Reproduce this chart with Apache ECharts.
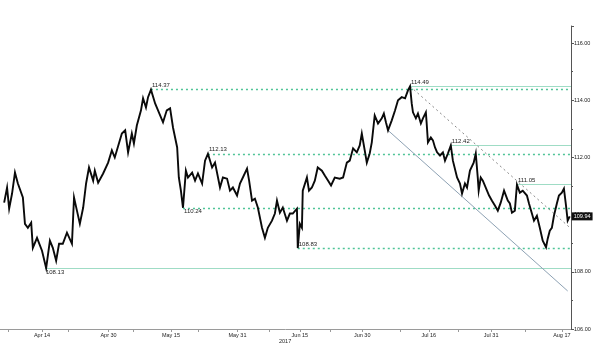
<!DOCTYPE html>
<html>
<head>
<meta charset="utf-8">
<script src="https://cdn.jsdelivr.net/npm/echarts@6/dist/echarts.min.js"></script>
<style>
html, body { margin: 0; padding: 0; background: #fff; }
#chart { width: 600px; height: 353px; }
</style>
</head>
<body>
<div id="chart"></div>
<script>
// x = days since 2017-04-01 (fractional, intraday), y = price
var priceDays = [
    3.9, 4.6, 5.1, 5.8, 6.5, 7.2, 8.4, 8.9, 9.6, 10.4,
    10.8, 11.8, 13.0, 14.0, 14.9, 15.6, 16.4, 17.1, 18.0, 19.0,
    20.2, 20.7, 21.4, 22.1, 22.9, 23.6, 24.3, 25.3, 25.7, 26.5,
    27.7, 28.9, 29.8, 30.5, 32.2, 33.0, 33.7, 34.6, 35.1, 35.8,
    36.8, 37.3, 38.0, 38.5, 39.2, 40.2, 40.9, 42.1, 43.0, 43.8,
    44.5, 45.5, 45.9, 46.4, 46.9, 47.6, 48.1, 49.1, 49.8, 50.5,
    51.5, 52.2, 52.9, 53.9, 54.6, 55.8, 56.5, 57.5, 58.2, 58.9,
    59.9, 60.6, 61.3, 62.3, 62.8, 63.5, 64.2, 64.9, 65.9, 66.6,
    67.3, 68.3, 69.0, 69.5, 70.2, 70.9, 71.9, 72.6, 73.3, 74.3,
    74.5, 75.0, 75.5, 75.7, 76.7, 77.2, 77.9, 78.6, 79.3, 80.3,
    81.0, 81.8, 82.5, 83.4, 84.6, 85.4, 86.3, 87.0, 87.8, 88.7,
    89.4, 89.9, 90.6, 91.1, 91.8, 92.3, 93.0, 93.8, 94.7, 95.2,
    95.7, 96.2, 97.1, 97.9, 98.6, 99.5, 100.3, 101.0, 101.5, 101.9,
    102.2, 102.9, 103.4, 104.1, 104.6, 105.3, 105.5, 105.8, 106.5, 107.0,
    107.5, 108.0, 108.7, 109.4, 109.9, 110.6, 111.3, 111.8, 112.8, 113.5,
    114.0, 114.7, 115.2, 115.9, 116.8, 117.3, 117.8, 118.0, 118.5, 119.0,
    120.0, 120.5, 121.2, 121.9, 122.6, 123.3, 124.1, 125.0, 125.5, 126.0,
    126.7, 127.2, 127.9, 128.6, 129.6, 130.1, 130.8, 131.3, 132.0, 132.7,
    133.4, 134.2, 134.6, 135.1, 135.6, 136.1, 136.8, 137.3, 138.0, 138.5,
    139.0, 139.4, 139.9
];
var priceValues = [
    110.42, 110.95, 110.21, 110.74, 111.47, 111.09, 110.60, 109.68, 109.54, 109.72,
    108.84, 109.19, 108.74, 108.13, 109.09, 108.84, 108.39, 108.98, 108.98, 109.37,
    108.98, 110.60, 110.14, 109.68, 110.25, 111.09, 111.65, 111.19, 111.54, 111.12,
    111.44, 111.82, 112.25, 112.00, 112.84, 112.95, 112.18, 112.84, 112.49, 113.12,
    113.65, 114.07, 113.75, 114.11, 114.37, 113.89, 113.65, 113.23, 113.65, 113.72,
    113.05, 112.35, 111.30, 110.84, 110.24, 111.54, 111.30, 111.47, 111.19, 111.44,
    111.09, 111.89, 112.13, 111.65, 111.82, 110.95, 111.30, 111.26, 110.84, 110.95,
    110.67, 111.09, 111.30, 111.61, 111.19, 110.49, 110.56, 110.25, 109.54, 109.19,
    109.54, 109.79, 110.04, 110.49, 110.07, 110.25, 109.79, 110.04, 110.04, 110.21,
    108.83, 109.68, 109.54, 110.84, 111.30, 110.84, 110.95, 111.19, 111.65, 111.54,
    111.37, 111.19, 111.02, 111.30, 111.26, 111.30, 111.82, 111.89, 112.32, 112.18,
    112.42, 112.84, 112.25, 111.82, 112.14, 112.53, 113.47, 113.19, 113.37, 113.54,
    113.23, 112.95, 113.30, 113.65, 114.00, 114.11, 114.07, 114.35, 114.49, 113.89,
    113.58, 113.37, 113.54, 113.19, 113.37, 113.58, 113.19, 112.53, 112.70, 112.60,
    112.35, 112.18, 112.07, 112.18, 111.89, 112.14, 112.42, 111.89, 111.30, 111.09,
    110.74, 111.09, 110.95, 111.54, 111.82, 112.14, 111.26, 110.84, 111.30, 111.19,
    110.84, 110.67, 110.49, 110.32, 110.14, 110.42, 110.84, 110.49, 110.39, 110.07,
    110.14, 111.05, 110.77, 110.84, 110.67, 110.39, 110.04, 109.79, 109.96, 109.54,
    109.09, 108.86, 109.16, 109.44, 109.54, 109.96, 110.39, 110.67, 110.77, 110.91,
    110.32, 109.79, 109.94
];

// support / resistance levels
var levelValues = [108.13, 114.37, 110.24, 112.13, 108.83, 114.49, 112.42, 111.05];
var levelStartDays = [13.7, 39.2, 46.9, 52.9, 74.5, 101.5, 111.3, 127.2];
var levelDotted = [false, true, true, true, true, false, false, false];
var levelLabelBelow = [true, false, true, false, false, false, false, false];

// trend lines [day, price] start -> end
var trendDashedStart = [101.5, 114.49], trendDashedEnd = [139.9, 109.55];
var trendSolidStart = [96.2, 112.95], trendSolidEnd = [139.4, 107.33];

// axis labels
var xLabelDays = [13, 29, 44, 60, 75, 90, 106, 121, 138];
var xLabels = ['Apr 14', 'Apr 30', 'May 15', 'May 31', 'Jun 15', 'Jun 30', 'Jul 16', 'Jul 31', 'Aug 17'];
var xTickDays = [4.8, 19.3, 34.9, 50.5, 67.6, 82.2, 99.1, 113.2, 129.3];
var yearLabel = '2017';
var lastLabel = '109.94';

var xMin = 2.9, xMax = 140.2;
var fontFam = 'Liberation Sans, Arial, sans-serif';

var myChart = echarts.init(document.getElementById('chart'));

var priceData = [];
for (var i = 0; i < priceDays.length; i++) {
    priceData.push([priceDays[i], priceValues[i]]);
}

var lines = [];
for (var j = 0; j < levelValues.length; j++) {
    lines.push([
        {
            coord: [levelStartDays[j], levelValues[j]],
            lineStyle: levelDotted[j]
                ? { color: '#4fc497', width: 1.3, type: [2, 3] }
                : { color: '#9fdcc5', width: 1.2, type: 'solid' },
            label: {
                show: true,
                position: levelLabelBelow[j] ? 'insideStartBottom' : 'insideStartTop',
                formatter: levelValues[j].toFixed(2)
            }
        },
        { coord: [xMax, levelValues[j]] }
    ]);
}
lines.push([
    { coord: trendDashedStart, lineStyle: { color: '#8a8a8a', width: 1, type: [2, 3] }, label: { show: false } },
    { coord: trendDashedEnd }
]);
lines.push([
    { coord: trendSolidStart, lineStyle: { color: '#8ea2b4', width: 1, type: 'solid' }, label: { show: false } },
    { coord: trendSolidEnd }
]);

var option = {
    animation: false,
    backgroundColor: '#fff',
    textStyle: { fontFamily: fontFam },
    grid: { left: 0, right: 29, top: 26, bottom: 24, containLabel: false },
    xAxis: {
        type: 'value',
        min: xMin,
        max: xMax,
        splitLine: { show: false },
        axisLine: { lineStyle: { color: '#9a9a9a', width: 1 } },
        axisTick: { show: true, length: 3, customValues: xTickDays.concat(xLabelDays), lineStyle: { color: '#9a9a9a' } },
        axisLabel: {
            customValues: xLabelDays,
            fontSize: 5.5,
            color: '#222',
            margin: 3,
            fontFamily: fontFam,
            formatter: function (v) {
                var k = xLabelDays.indexOf(v);
                return k >= 0 ? xLabels[k] : '';
            }
        }
    },
    yAxis: {
        type: 'value',
        position: 'right',
        min: 106,
        max: 116.6,
        interval: 2,
        splitLine: { show: false },
        axisLine: { show: true, lineStyle: { color: '#555', width: 1 } },
        axisTick: { show: true, length: 3, lineStyle: { color: '#555' } },
        minorTick: { show: true, splitNumber: 2, length: 2, lineStyle: { color: '#555' } },
        axisLabel: {
            fontSize: 5.5,
            color: '#222',
            margin: 3,
            fontFamily: fontFam,
            showMaxLabel: false,
            formatter: function (v) { return v.toFixed(2); }
        }
    },
    graphic: [{
        type: 'text',
        left: 279,
        top: 338,
        style: { text: yearLabel, fontSize: 5.5, fill: '#222', fontFamily: fontFam }
    }],
    series: [{
        name: 'USDJPY',
        type: 'line',
        data: priceData,
        showSymbol: false,
        lineStyle: { color: '#0a0a0a', width: 1.9, join: 'miter' },
        z: 5,
        endLabel: {
            show: true,
            formatter: lastLabel,
            color: '#fff',
            backgroundColor: '#111',
            fontSize: 5.5,
            padding: [1, 2],
            distance: 2,
            fontFamily: fontFam
        },
        markLine: {
            silent: true,
            symbol: ['none', 'none'],
            animation: false,
            z: 3,
            label: { fontSize: 6, color: '#222', distance: 1, fontFamily: fontFam },
            data: lines
        }
    }]
};

myChart.setOption(option);
</script>
</body>
</html>
